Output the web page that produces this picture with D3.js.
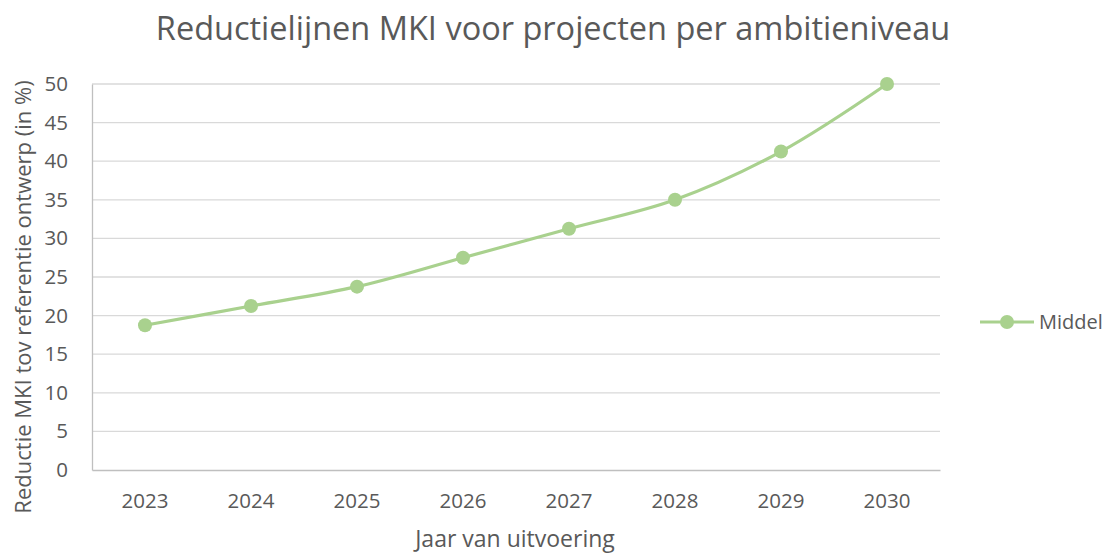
<!DOCTYPE html>
<html>
<head>
<meta charset="utf-8">
<script src="https://cdn.jsdelivr.net/npm/d3@7"></script>
<style>
  body { margin: 0; background: #fff; }
  svg { display: block; }
  text { font-family: "Open Sans", sans-serif; fill: #595959; }
</style>
</head>
<body>
<svg id="chart" width="1108" height="553"></svg>
<script>
const years = ["2023", "2024", "2025", "2026", "2027", "2028", "2029", "2030"];
const middel = [18.75, 21.25, 23.75, 27.5, 31.25, 35, 41.25, 50];
const yTicks = [0, 5, 10, 15, 20, 25, 30, 35, 40, 45, 50];
const seriesName = "Middel";

const svg = d3.select("#chart");
const margin = { left: 92, right: 168, top: 84, bottom: 83 };
const W = 1108, H = 553;
const green = "#A9D18E";

const x = d3.scaleBand().domain(years).range([margin.left, W - margin.right]);
const y = d3.scaleLinear().domain([0, 50]).range([H - margin.bottom, margin.top]);

// horizontal gridlines
svg.append("g").selectAll("line").data(yTicks.filter(d => d > 0)).join("line")
  .attr("x1", margin.left).attr("x2", W - margin.right)
  .attr("y1", d => y(d)).attr("y2", d => y(d))
  .attr("stroke", "#d9d9d9").attr("stroke-width", 1.3);

// axes
const yAxis = svg.append("g").attr("transform", `translate(${margin.left},0)`)
  .call(d3.axisLeft(y).tickValues(yTicks).tickSize(0).tickPadding(24));
yAxis.select(".domain").attr("stroke", "#bfbfbf").attr("stroke-width", 1.3);
yAxis.selectAll("text").style("font-size", "20.5px").attr("fill", "#595959");

const xAxis = svg.append("g").attr("transform", `translate(0,${y(0)})`)
  .call(d3.axisBottom(x).tickSize(0).tickPadding(23));
xAxis.select(".domain").attr("stroke", "#bfbfbf").attr("stroke-width", 1.3);
xAxis.selectAll("text").style("font-size", "20.5px").attr("fill", "#595959");

// series line (smoothed) and markers
const pts = years.map((yr, i) => [x(yr) + x.bandwidth() / 2, y(middel[i])]);
svg.append("path")
  .attr("d", d3.line().curve(d3.curveCatmullRom.alpha(0.5))(pts))
  .attr("fill", "none").attr("stroke", green).attr("stroke-width", 3.2)
  .attr("stroke-linecap", "round");

svg.append("g").selectAll("circle").data(years).join("circle")
  .attr("cx", d => x(d) + x.bandwidth() / 2)
  .attr("cy", (d, i) => y(middel[i]))
  .attr("r", 7).attr("fill", green);

// chart title
svg.append("text").attr("x", 553).attr("y", 40).attr("text-anchor", "middle")
  .style("font-size", "32.5px").text("Reductielijnen MKI voor projecten per ambitieniveau");

// axis titles
svg.append("text").attr("x", 515).attr("y", 547).attr("text-anchor", "middle")
  .style("font-size", "23px").text("Jaar van uitvoering");
svg.append("text").attr("transform", "translate(31,297) rotate(-90)")
  .attr("text-anchor", "middle").style("font-size", "22px")
  .text("Reductie MKI tov referentie ontwerp (in %)");

// legend
const lg = svg.append("g").attr("transform", "translate(980,322)");
lg.append("line").attr("x1", 0).attr("x2", 54).attr("stroke", green).attr("stroke-width", 3.2);
lg.append("circle").attr("cx", 27).attr("r", 7).attr("fill", green);
lg.append("text").attr("x", 59).attr("y", 6.5).style("font-size", "20px").text(seriesName);
</script>
</body>
</html>
